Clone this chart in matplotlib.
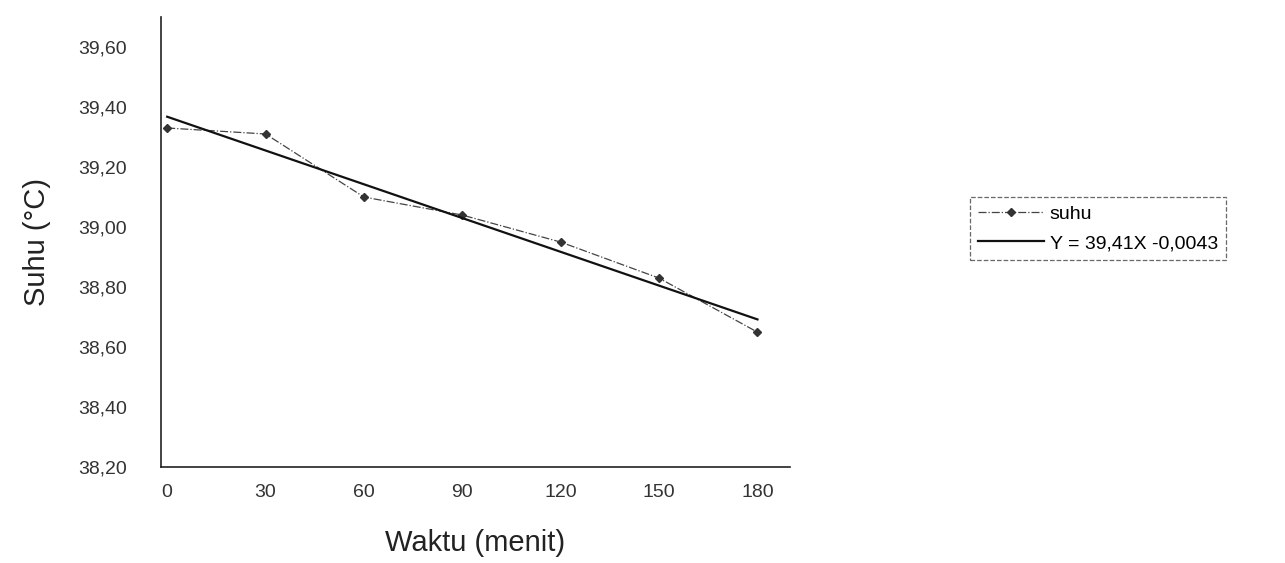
# suhu vs waktu with linear trend line
import matplotlib.pyplot as plt
import numpy as np

plt.rcParams['font.family'] = ['Liberation Sans', 'DejaVu Sans']

waktu = [0, 30, 60, 90, 120, 150, 180]
suhu = [39.33, 39.31, 39.10, 39.04, 38.95, 38.83, 38.65]
yticks = [38.20, 38.40, 38.60, 38.80, 39.00, 39.20, 39.40, 39.60]
xticks = [0, 30, 60, 90, 120, 150, 180]
trend_label = 'Y = 39,41X -0,0043'

fig = plt.figure(figsize=(12.85, 5.63), dpi=100)
ax = fig.add_axes([0.125, 0.17, 0.49, 0.80])

# data series
ax.plot(waktu, suhu, color='#444444', lw=0.9, ls='-.', marker='D', ms=4,
        mfc='#333333', mec='#333333', label='suhu')

# linear fit
k, b = np.polyfit(waktu, suhu, 1)
xx = np.array([waktu[0], waktu[-1]])
ax.plot(xx, k*xx + b, color='#111111', lw=1.6, label=trend_label)

ax.set_xlim(-2, 190)
ax.set_ylim(38.2, 39.7)
ax.set_xticks(xticks)
ax.set_yticks(yticks)
ax.set_yticklabels([('%.2f' % v).replace('.', ',') for v in yticks])
ax.tick_params(axis='y', length=0, labelsize=14, colors='#333333', pad=24)
ax.tick_params(axis='x', length=0, labelsize=14, colors='#333333', pad=12)

for s in ['top', 'right']:
    ax.spines[s].set_visible(False)
for s in ['left', 'bottom']:
    ax.spines[s].set_color('#222222')
    ax.spines[s].set_linewidth(1.2)

ax.set_xlabel('Waktu (menit)', fontsize=21, color='#222222', labelpad=20)
ax.set_ylabel('Suhu (°C)', fontsize=21, color='#222222', labelpad=20)

leg = ax.legend(loc='center left', bbox_to_anchor=(1.27, 0.53), fontsize=14,
                frameon=True, fancybox=False, handlelength=3.4,
                borderpad=0.4, labelspacing=0.6, handletextpad=0.3)
leg.get_frame().set_edgecolor('#444444')
leg.get_frame().set_linestyle('--')
leg.get_frame().set_linewidth(0.9)

plt.savefig('out.png', dpi=100)
